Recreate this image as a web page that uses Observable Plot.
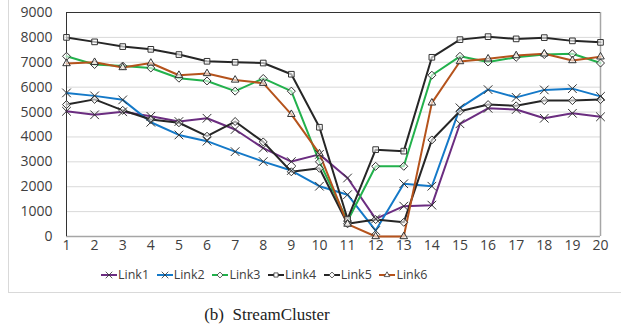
<!DOCTYPE html>
<html><head><meta charset="utf-8">
<script src="https://cdn.jsdelivr.net/npm/d3@7"></script>
<script src="https://cdn.jsdelivr.net/npm/@observablehq/plot@0.6"></script>
<style>
body{margin:0;background:#fff;font-family:"Open Sans","Noto Sans",sans-serif;}
#wrap{position:relative;width:621px;height:331px;overflow:hidden;}
#box{position:absolute;left:8px;top:-2px;width:640px;height:293px;border:1px solid #d9d9d9;}
#chart{position:absolute;left:0;top:0;}
#legend{position:absolute;left:101px;top:266px;display:flex;gap:0;font-size:12.5px;color:#404040;}
#legend .it{display:flex;align-items:center;width:55.7px;}
#legend span{margin-left:1px;}
#cap{position:absolute;left:0;width:534px;top:305px;text-align:center;font-family:"Liberation Serif","DejaVu Serif",serif;font-size:17px;color:#222;}
</style></head>
<body><div id="wrap"><div id="box"></div><div id="chart"></div><div id="legend"></div><div id="cap">(b)&nbsp;&nbsp;StreamCluster</div></div>
<script>
const xs = [1,2,3,4,5,6,7,8,9,10,11,12,13,14,15,16,17,18,19,20];
const yTicks = [0,1000,2000,3000,4000,5000,6000,7000,8000,9000];
const seriesNames = ["Link1","Link2","Link3","Link4","Link5","Link6"];
const link1 = [5030,4890,5010,4830,4620,4750,4300,3550,3010,3300,2350,710,1220,1260,4530,5150,5100,4750,4950,4810];
const link2 = [5770,5650,5490,4590,4080,3830,3410,3010,2650,2020,1680,240,2120,2020,5170,5900,5590,5890,5940,5630];
const link3 = [7240,6910,6850,6770,6360,6250,5840,6350,5840,3000,620,2820,2820,6480,7240,7010,7200,7310,7340,6970];
const link4 = [8000,7820,7630,7520,7310,7040,7000,6970,6520,4390,700,3490,3430,7200,7910,8030,7940,7990,7860,7800];
const link5 = [5300,5510,5070,4700,4570,4030,4620,3800,2600,2740,510,680,570,3880,5030,5300,5250,5460,5460,5500];
const link6 = [6950,7000,6790,6970,6480,6550,6290,6160,4910,3330,500,0,0,5370,7030,7140,7270,7340,7070,7220];
const colors = ["#6b2d80","#1479c8","#22b14c","#262626","#262626","#b5531c"];
const symbols = ["times","times","diamond2","square2","diamond2","triangle2"];
const d3sym = {times:d3.symbolTimes,diamond2:d3.symbolDiamond2,square2:d3.symbolSquare2,triangle2:d3.symbolTriangle2};
const allSeries = [link1,link2,link3,link4,link5,link6];
const data = [];
allSeries.forEach((arr,i)=>arr.forEach((v,j)=>data.push({x:xs[j],y:v,s:seriesNames[i],sym:symbols[i]})));

const plot = Plot.plot({
  width:621, height:258,
  marginTop:12, marginLeft:66, marginRight:21, marginBottom:22,
  style:{fontFamily:'"Open Sans","Noto Sans",sans-serif',fontSize:"14px",color:"#404040",background:"transparent"},
  x:{domain:[1,20], label:null},
  y:{domain:[0,9000], label:null},
  color:{domain:seriesNames, range:colors},
  marks:[
    Plot.ruleY(yTicks.slice(1,-1),{stroke:"#d9d9d9",strokeWidth:1}),
    Plot.ruleY([0],{stroke:"#a6a6a6",strokeWidth:1.5}),
    Plot.ruleX([20],{stroke:"#a6a6a6",strokeWidth:1.5}),
    Plot.ruleY([9000],{stroke:"#333",strokeWidth:1}),
    Plot.ruleX([1],{stroke:"#333",strokeWidth:1}),
    Plot.axisX({ticks:xs, tickSize:0, tickPadding:4, label:null, tickFormat:d=>String(d)}),
    Plot.axisY({ticks:yTicks, tickSize:0, tickPadding:14, label:null, tickFormat:d=>String(d)}),
    Plot.line(data,{x:"x",y:"y",z:"s",stroke:"s",strokeWidth:2}),
    Plot.dot(data.filter(d=>d.sym!=="times"),{x:"x",y:"y",symbol:"sym",r:3.6,fill:"white",fillOpacity:0.6,stroke:"#333",strokeWidth:1}),
    Plot.dot(data.filter(d=>d.sym==="times"),{x:"x",y:"y",symbol:"sym",r:4,stroke:"#333",strokeWidth:1})
  ]
});
document.getElementById("chart").appendChild(plot);

const leg = d3.select("#legend");
seriesNames.forEach((n,i)=>{
  const it = leg.append("div").attr("class","it");
  const svg = it.append("svg").attr("width",16).attr("height",12);
  svg.append("line").attr("x1",0).attr("x2",16).attr("y1",6).attr("y2",6).attr("stroke",colors[i]).attr("stroke-width",2);
  svg.append("path").attr("transform","translate(8,6)")
    .attr("d",d3.symbol(d3sym[symbols[i]],symbols[i]==="times"?30:22)())
    .attr("fill",symbols[i]==="times"?"none":"white").attr("stroke","#333").attr("stroke-width",0.8);
  it.append("span").text(n);
});
</script></body></html>
